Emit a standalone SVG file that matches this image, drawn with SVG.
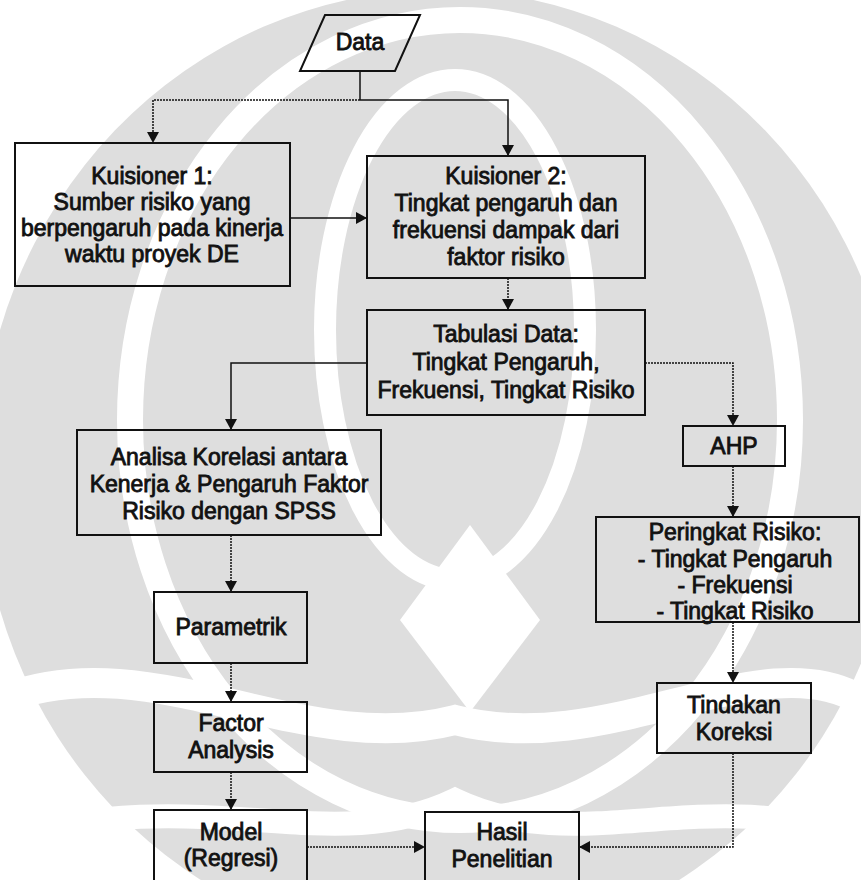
<svg xmlns="http://www.w3.org/2000/svg" width="861" height="880" viewBox="0 0 861 880">
  <defs>
    <marker id="arrow" markerUnits="userSpaceOnUse" markerWidth="11" markerHeight="12" refX="11" refY="6" orient="auto">
      <path d="M0,0 L11,6 L0,12 Z" fill="#111"/>
    </marker>
    <style>
      .box { fill: none; stroke: #111; stroke-width: 2; }
      .lbl { font-family: "Liberation Sans", Arial, sans-serif; font-size: 23px; fill: #111; stroke: #111; stroke-width: 0.85; text-anchor: middle; }
      .wire { fill: none; stroke: #111; stroke-width: 1.5; }
      .dot { stroke-dasharray: 2 1; }
      .wm-cut { fill: none; stroke: #fff; }
    </style>
  </defs>

  <rect width="861" height="880" fill="#fff"/>

  <!-- faint background emblem -->
  <g id="watermark">
    <ellipse cx="440" cy="470" rx="460" ry="480" fill="#dedede"/>
    <ellipse class="wm-cut" cx="460" cy="420" rx="330" ry="400" stroke-width="26"/>
    <ellipse class="wm-cut" cx="455" cy="330" rx="130" ry="250" stroke-width="22"/>
    <path class="wm-cut" d="M0,700 C150,640 300,760 455,720 C610,760 760,640 861,700" stroke-width="30"/>
    <path class="wm-cut" d="M0,840 C200,780 330,860 455,800 C580,860 710,780 861,840" stroke-width="24"/>
    <polygon points="470,525 540,620 470,712 400,620" fill="#fff"/>
  </g>

  <!-- connectors -->
  <g id="connectors">
    <path class="wire" d="M360,71 V100"/>
    <path class="wire dot" d="M360,100 H153 V143" marker-end="url(#arrow)"/>
    <path class="wire" d="M360,100 H508 V156" marker-end="url(#arrow)"/>
    <path class="wire" d="M290,218 H367" marker-end="url(#arrow)"/>
    <path class="wire dot" d="M508,278 V310" marker-end="url(#arrow)"/>
    <path class="wire" d="M367,363 H231 V430" marker-end="url(#arrow)"/>
    <path class="wire dot" d="M645,363 H733 V426" marker-end="url(#arrow)"/>
    <path class="wire dot" d="M231,535 V592" marker-end="url(#arrow)"/>
    <path class="wire dot" d="M231,663 V702" marker-end="url(#arrow)"/>
    <path class="wire dot" d="M231,772 V810" marker-end="url(#arrow)"/>
    <path class="wire dot" d="M307,847 H425" marker-end="url(#arrow)"/>
    <path class="wire dot" d="M733,466 V517" marker-end="url(#arrow)"/>
    <path class="wire dot" d="M733,622 V683" marker-end="url(#arrow)"/>
    <path class="wire dot" d="M733,753 V847 H579" marker-end="url(#arrow)"/>
  </g>

  <g id="data">
    <polygon class="box" points="325,15 420,15 395,71 300,71"/>
    <text class="lbl" x="360" y="50">Data</text>
  </g>

  <g id="kuisioner1">
    <rect class="box" x="15" y="143" width="275" height="143"/>
    <text class="lbl" x="152" y="184">Kuisioner 1:</text>
    <text class="lbl" x="152" y="210">Sumber risiko yang</text>
    <text class="lbl" x="152" y="236">berpengaruh pada kinerja</text>
    <text class="lbl" x="152" y="262">waktu proyek DE</text>
  </g>

  <g id="kuisioner2">
    <rect class="box" x="367" y="156" width="278" height="122"/>
    <text class="lbl" x="506" y="184">Kuisioner 2:</text>
    <text class="lbl" x="506" y="211">Tingkat pengaruh dan</text>
    <text class="lbl" x="506" y="238">frekuensi dampak dari</text>
    <text class="lbl" x="506" y="265">faktor risiko</text>
  </g>

  <g id="tabulasi">
    <rect class="box" x="367" y="310" width="278" height="105"/>
    <text class="lbl" x="506" y="342">Tabulasi Data:</text>
    <text class="lbl" x="506" y="370">Tingkat Pengaruh,</text>
    <text class="lbl" x="506" y="398">Frekuensi, Tingkat Risiko</text>
  </g>

  <g id="analisa">
    <rect class="box" x="77" y="430" width="304" height="105"/>
    <text class="lbl" x="229" y="465">Analisa Korelasi antara</text>
    <text class="lbl" x="229" y="492">Kenerja &amp; Pengaruh Faktor</text>
    <text class="lbl" x="229" y="519">Risiko dengan SPSS</text>
  </g>

  <g id="ahp">
    <rect class="box" x="683" y="426" width="102" height="40"/>
    <text class="lbl" x="734" y="454">AHP</text>
  </g>

  <g id="peringkat">
    <rect class="box" x="596" y="517" width="263" height="105"/>
    <text class="lbl" x="735" y="540">Peringkat Risiko:</text>
    <text class="lbl" x="735" y="567">- Tingkat Pengaruh</text>
    <text class="lbl" x="735" y="593">- Frekuensi</text>
    <text class="lbl" x="735" y="619">- Tingkat Risiko</text>
  </g>

  <g id="parametrik">
    <rect class="box" x="154" y="592" width="153" height="71"/>
    <text class="lbl" x="231" y="635">Parametrik</text>
  </g>

  <g id="factor-analysis">
    <rect class="box" x="154" y="702" width="153" height="70"/>
    <text class="lbl" x="231" y="731">Factor</text>
    <text class="lbl" x="231" y="758">Analysis</text>
  </g>

  <g id="tindakan">
    <rect class="box" x="657" y="683" width="154" height="70"/>
    <text class="lbl" x="734" y="713">Tindakan</text>
    <text class="lbl" x="734" y="740">Koreksi</text>
  </g>

  <g id="model">
    <rect class="box" x="154" y="810" width="153" height="90"/>
    <text class="lbl" x="231" y="840">Model</text>
    <text class="lbl" x="231" y="866">(Regresi)</text>
  </g>

  <g id="hasil">
    <rect class="box" x="425" y="812" width="154" height="90"/>
    <text class="lbl" x="502" y="840">Hasil</text>
    <text class="lbl" x="502" y="867">Penelitian</text>
  </g>
</svg>
